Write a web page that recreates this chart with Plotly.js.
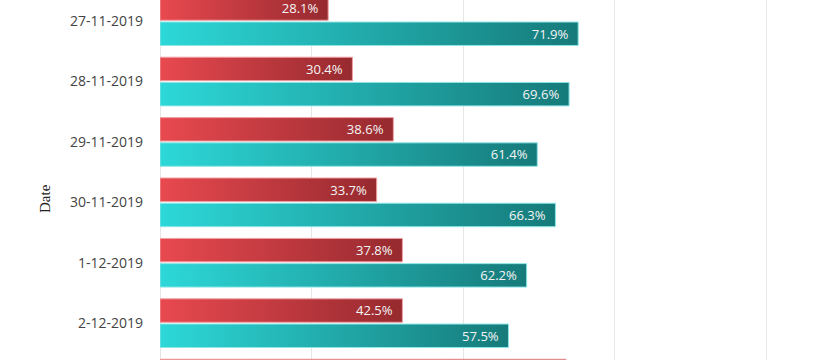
<!DOCTYPE html>
<html>
<head>
<meta charset="utf-8">
<script src="https://cdn.plot.ly/plotly-3.0.1.min.js"></script>
<style>
  html, body { margin: 0; padding: 0; background: #ffffff; }
  #chart { width: 820px; height: 360px; }
</style>
</head>
<body>
<div id="chart"></div>
<script>
// Categories (dates) — 3-12-2019 is only just visible at the bottom edge
const dates = ["27-11-2019", "28-11-2019", "29-11-2019", "30-11-2019", "1-12-2019", "2-12-2019", "3-12-2019"];
// Bar lengths (axis units, one grid step = 100)
const redValues  = [111, 127, 154, 143, 160, 160, 268];
const tealValues = [276, 270, 249, 261, 242, 230, null];
// Percent labels written on the bars
const redLabels  = ["28.1%", "30.4%", "38.6%", "33.7%", "37.8%", "42.5%", ""];
const tealLabels = ["71.9%", "69.6%", "61.4%", "66.3%", "62.2%", "57.5%", ""];

const pad = "\u00a0\u00a0";
const labelFont = { family: "Open Sans, Noto Sans, sans-serif", size: 13.5, color: "#f4f4f4" };

const traceRed = {
  type: "bar", orientation: "h",
  y: dates, x: redValues,
  text: redLabels.map(t => t ? t + pad : ""),
  textposition: "inside", insidetextanchor: "end",
  textfont: labelFont, insidetextfont: labelFont,
  marker: { color: "#c53a40", line: { color: "#f0a0a3", width: 1 } },
  hoverinfo: "none", cliponaxis: true
};
const traceTeal = {
  type: "bar", orientation: "h",
  y: dates, x: tealValues,
  text: tealLabels.map(t => t ? t + pad : ""),
  textposition: "inside", insidetextanchor: "end",
  textfont: labelFont, insidetextfont: labelFont,
  marker: { color: "#22a8a8", line: { color: "#8ee6e6", width: 1 } },
  hoverinfo: "none", cliponaxis: true
};

const layout = {
  width: 820, height: 360,
  margin: { l: 160, r: 0, t: 0, b: 0, pad: 0 },
  paper_bgcolor: "#ffffff", plot_bgcolor: "#ffffff",
  barmode: "group", bargap: 0.165, bargroupgap: 0.07,
  showlegend: false,
  uniformtext: { mode: "show", minsize: 13 },
  xaxis: {
    range: [0, 435.6], dtick: 100, tick0: 0,
    showgrid: true, gridcolor: "#e6e6e6", gridwidth: 1,
    zeroline: true, zerolinecolor: "#e6e6e6", zerolinewidth: 1,
    showticklabels: false, showline: false, fixedrange: true
  },
  yaxis: {
    type: "category",
    categoryorder: "array", categoryarray: dates,
    range: [5.61, -0.35],
    showgrid: false, zeroline: false, showline: false,
    ticks: "", ticklabelstandoff: 16,
    tickfont: { family: "Open Sans, Noto Sans, sans-serif", size: 14, color: "#444444" },
    fixedrange: true
  },
  annotations: [{
    text: "Date", textangle: -90, showarrow: false,
    xref: "paper", yref: "paper",
    x: (45 - 160) / 660, y: (360 - 198) / 360,
    xanchor: "center", yanchor: "middle",
    font: { family: "Liberation Serif, DejaVu Serif, serif", size: 15, color: "#222222" }
  }]
};

function applyGradients(gd) {
  const svg = gd.querySelector("svg.main-svg");
  if (!svg) return;
  let defs = svg.querySelector("defs");
  if (!defs) { defs = document.createElementNS("http://www.w3.org/2000/svg", "defs"); svg.insertBefore(defs, svg.firstChild); }
  const specs = [
    { id: "gradRed", from: "#e8494f", to: "#962a2f" },
    { id: "gradTeal", from: "#2dd8d8", to: "#167a7a" }
  ];
  specs.forEach(s => {
    if (defs.querySelector("#" + s.id)) return;
    const g = document.createElementNS("http://www.w3.org/2000/svg", "linearGradient");
    g.setAttribute("id", s.id);
    g.setAttribute("x1", "0"); g.setAttribute("y1", "0");
    g.setAttribute("x2", "1"); g.setAttribute("y2", "0");
    [[0, s.from], [1, s.to]].forEach(([o, c]) => {
      const st = document.createElementNS("http://www.w3.org/2000/svg", "stop");
      st.setAttribute("offset", o); st.setAttribute("stop-color", c);
      g.appendChild(st);
    });
    defs.appendChild(g);
  });
  const traces = gd.querySelectorAll(".barlayer .trace");
  traces.forEach((tr, i) => {
    const id = i === 0 ? "gradRed" : "gradTeal";
    tr.querySelectorAll(".point path").forEach(p => { p.style.fill = "url(#" + id + ")"; });
  });
}

const gd = document.getElementById("chart");
Plotly.newPlot(gd, [traceRed, traceTeal], layout, { displayModeBar: false, staticPlot: true })
  .then(() => { applyGradients(gd); gd.on && gd.on("plotly_afterplot", () => applyGradients(gd)); });
</script>
</body>
</html>
